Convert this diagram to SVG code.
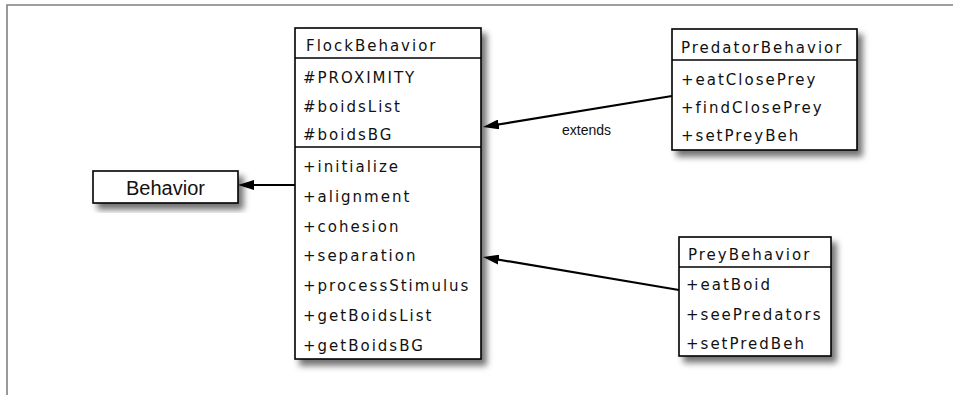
<svg xmlns="http://www.w3.org/2000/svg" width="959" height="395" viewBox="0 0 959 395">
  <style>
    .box { fill: #ffffff; stroke: #000000; stroke-width: 1.6; }
    .sep { stroke: #000000; stroke-width: 1.4; fill: none; }
    .t { font-family: "DejaVu Sans", sans-serif; font-size: 15px; letter-spacing: 2px; fill: #111111; }
    .big { font-family: "Liberation Sans", Arial, sans-serif; font-size: 20px; fill: #111111; }
    .lbl { font-family: "Liberation Sans", Arial, sans-serif; font-size: 14px; fill: #111111; }
    .conn { stroke: #000000; stroke-width: 2.2; fill: none; marker-end: url(#arrow); }
    .frame { stroke: #808080; stroke-width: 1.6; fill: none; }
  </style>
  <defs>
    <filter id="shadow" x="-20%" y="-20%" width="150%" height="150%">
      <feDropShadow dx="5" dy="6" stdDeviation="3" flood-color="#000000" flood-opacity="0.55"/>
    </filter>
    <marker id="arrow" viewBox="0 0 16 10" markerWidth="16" markerHeight="10" refX="10" refY="5" orient="auto" markerUnits="userSpaceOnUse">
      <path d="M0,0 L16,5 L0,10 Z" fill="#000000"/>
    </marker>
  </defs>

  <rect width="959" height="395" fill="#ffffff"/>
  <path class="frame" d="M7,395 V5 H953"/>

  <g id="connectors">
    <line class="conn" x1="295" y1="185" x2="244" y2="185"/>
    <line class="conn" x1="672" y1="96" x2="488.9" y2="126"/>
    <line class="conn" x1="679" y1="290" x2="488.9" y2="258"/>
    <text class="lbl" x="562" y="135">extends</text>
  </g>

  <g id="behavior">
    <rect class="box" x="93" y="171" width="145" height="32" filter="url(#shadow)"/>
    <text class="big" x="126" y="195">Behavior</text>
  </g>

  <g id="flockbehavior">
    <rect class="box" x="295" y="28" width="186" height="331" filter="url(#shadow)"/>
    <line class="sep" x1="295" y1="58" x2="481" y2="58"/>
    <line class="sep" x1="295" y1="147" x2="481" y2="147"/>
    <text class="t" x="306" y="51">FlockBehavior</text>
    <text class="t" x="303" y="83">#PROXIMITY</text>
    <text class="t" x="303" y="111.5">#boidsList</text>
    <text class="t" x="303" y="140">#boidsBG</text>
    <text class="t" x="303" y="172">+initialize</text>
    <text class="t" x="303" y="201.8">+alignment</text>
    <text class="t" x="303" y="231.6">+cohesion</text>
    <text class="t" x="303" y="261.4">+separation</text>
    <text class="t" x="303" y="291.2">+processStimulus</text>
    <text class="t" x="303" y="321">+getBoidsList</text>
    <text class="t" x="303" y="350.8">+getBoidsBG</text>
  </g>

  <g id="predatorbehavior">
    <rect class="box" x="672" y="29" width="185" height="121" filter="url(#shadow)"/>
    <line class="sep" x1="672" y1="60" x2="857" y2="60"/>
    <text class="t" x="681" y="53">PredatorBehavior</text>
    <text class="t" x="681" y="84.5">+eatClosePrey</text>
    <text class="t" x="681" y="112.5">+findClosePrey</text>
    <text class="t" x="681" y="141">+setPreyBeh</text>
  </g>

  <g id="preybehavior">
    <rect class="box" x="679" y="237" width="152" height="119" filter="url(#shadow)"/>
    <line class="sep" x1="679" y1="267" x2="831" y2="267"/>
    <text class="t" x="688" y="260">PreyBehavior</text>
    <text class="t" x="686" y="290">+eatBoid</text>
    <text class="t" x="686" y="319.5">+seePredators</text>
    <text class="t" x="686" y="349">+setPredBeh</text>
  </g>
</svg>
